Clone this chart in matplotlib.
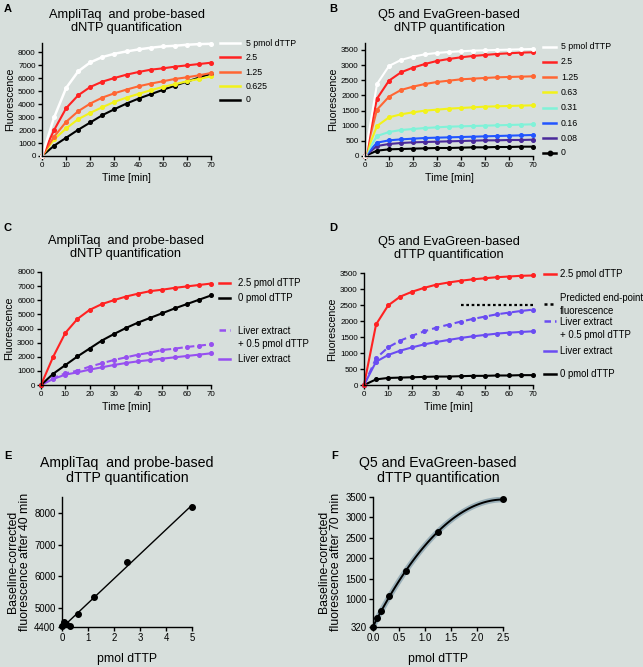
import numpy as np
import matplotlib
matplotlib.use("Agg")
import matplotlib.pyplot as plt
from matplotlib.lines import Line2D

plt.rcParams['font.family'] = ['Liberation Sans', 'DejaVu Sans']

BG = '#d7dfdc'

# time axis, minutes
time_min = [0, 5, 10, 15, 20, 25, 30, 35, 40, 45, 50, 55, 60, 65, 70]

# panel A - AmpliTaq, probe-based
a_5 = [0, 2965, 5240, 6518, 7208, 7617, 7872, 8051, 8205, 8333, 8435, 8486, 8563, 8614, 8640]
a_2_5 = [0, 1994, 3680, 4677, 5316, 5725, 6006, 6262, 6467, 6646, 6748, 6876, 6978, 7080, 7182]
a_1_25 = [0, 1482, 2633, 3450, 4038, 4498, 4830, 5112, 5368, 5572, 5751, 5930, 6058, 6211, 6390]
a_0_625 = [0, 1278, 2121, 2837, 3323, 3757, 4166, 4498, 4780, 5061, 5316, 5521, 5751, 5930, 6134]
a_0 = [0, 792, 1406, 2019, 2582, 3144, 3604, 4038, 4422, 4754, 5086, 5419, 5725, 6032, 6339]
a_labels = ['5 pmol dTTP', '2.5', '1.25', '0.625', '0']

# panel B - Q5, EvaGreen
b_5 = [0, 2377, 2972, 3170, 3280, 3357, 3401, 3434, 3456, 3478, 3489, 3500, 3511, 3522, 3533]
b_2_5 = [0, 1893, 2487, 2762, 2917, 3038, 3137, 3203, 3258, 3302, 3335, 3368, 3390, 3412, 3423]
b_1_25 = [0, 1530, 1959, 2179, 2289, 2377, 2443, 2487, 2531, 2553, 2575, 2597, 2608, 2619, 2630]
b_0_63 = [0, 990, 1277, 1376, 1442, 1497, 1530, 1563, 1585, 1607, 1629, 1640, 1651, 1662, 1673]
b_0_31 = [0, 660, 792, 858, 891, 924, 946, 968, 979, 990, 1001, 1012, 1024, 1035, 1046]
b_0_16 = [0, 440, 517, 550, 572, 594, 605, 616, 627, 638, 649, 660, 671, 682, 693]
b_0_08 = [0, 330, 396, 429, 451, 462, 473, 484, 495, 506, 517, 517, 528, 528, 539]
b_0 = [0, 176, 220, 231, 242, 253, 264, 264, 275, 286, 286, 297, 297, 308, 308]
b_labels = ['5 pmol dTTP', '2.5', '1.25', '0.63', '0.31', '0.16', '0.08', '0']

# panel C - liver extract, AmpliTaq
c_liver_spike = [0, 496, 826, 1015, 1298, 1534, 1770, 1959, 2148, 2289, 2478, 2572, 2690, 2785, 2879]
c_liver = [0, 425, 732, 897, 1086, 1251, 1416, 1558, 1676, 1770, 1864, 1959, 2053, 2148, 2242]

# panel D - liver extract, Q5
d_liver_spike = [0, 834, 1177, 1386, 1542, 1678, 1792, 1886, 1980, 2063, 2136, 2209, 2261, 2313, 2355]
d_liver = [0, 729, 938, 1073, 1177, 1271, 1344, 1407, 1469, 1521, 1563, 1605, 1636, 1657, 1678]
d_predicted = 2490
d_predicted_from = 40

# panels E and F - standard curves
e_pmol = [0, 0.08, 0.16, 0.31, 0.63, 1.25, 2.5, 5]
e_fluor = [4430, 4550, 4500, 4420, 4810, 5340, 6455, 8190]
f_pmol = [0, 0.08, 0.16, 0.31, 0.63, 1.25, 2.5]
f_fluor = [320, 533, 705, 1074, 1690, 2650, 3440]


def style_axes(ax, tick_size):
    ax.set_facecolor(BG)
    ax.spines['top'].set_visible(False)
    ax.spines['right'].set_visible(False)
    for s in ('left', 'bottom'):
        ax.spines[s].set_linewidth(1.0)
    ax.tick_params(labelsize=tick_size, length=3, width=1.0, pad=1.5)


def side_labels(ax, entries, x0, x1, xt, fs):
    # entries: (y handle, y text, text, line kwargs)
    for yh, yt, text, kw in entries:
        ax.add_line(Line2D([x0, (x0 + x1) / 2, x1], [yh, yh, yh],
                           transform=ax.transAxes, clip_on=False, **kw))
        ax.text(xt, yt, text, transform=ax.transAxes, fontsize=fs,
                va='center', ha='left', linespacing=1.45)


def kinetics_axes(ax, title, ymax, ystep, ytop, pad=9):
    style_axes(ax, 5.8)
    ax.set_xlim(0, 70)
    ax.set_ylim(0, ytop)
    ax.set_xticks(range(0, 71, 10))
    ax.set_yticks(np.arange(0, ymax + 1, ystep))
    ax.set_xlabel('Time [min]', fontsize=7.6, labelpad=3)
    ax.set_ylabel('Fluorescence', fontsize=7.6, labelpad=2)
    ax.set_title(title, fontsize=9.2, linespacing=1.1, pad=pad)


def main():
    fig = plt.figure(figsize=(6.43, 6.67), dpi=100)
    fig.patch.set_facecolor(BG)
    W, H = 643.0, 667.0

    def box(l, t, r, b):
        return [l / W, 1 - b / H, (r - l) / W, (b - t) / H]

    ax_a = fig.add_axes(box(42, 43, 211, 156))
    ax_b = fig.add_axes(box(365, 43, 533, 156))
    ax_c = fig.add_axes(box(41, 272, 211, 385))
    ax_d = fig.add_axes(box(364, 273, 533, 385))
    ax_e = fig.add_axes(box(62, 497, 192, 627))
    ax_f = fig.add_axes(box(373, 497, 503, 627))

    mk = dict(marker='o', markersize=2.6, linewidth=1.5, clip_on=False)
    dash = (0, (3.6, 2.0))
    dash_handle = (0, (2.6, 1.6))

    # A
    kinetics_axes(ax_a, 'AmpliTaq  and probe-based\ndNTP quantification', 8000, 1000, 8700)
    a_series = [a_5, a_2_5, a_1_25, a_0_625, a_0]
    a_colors = ['white', '#ff2222', '#ff6633', '#f2f21a', 'black']
    for vals, col in zip(reversed(a_series), reversed(a_colors)):
        lw = 1.8 if col == 'white' else 1.5
        ax_a.plot(time_min, vals, color=col, **dict(mk, linewidth=lw))
    ys = [1.0, 0.876, 0.743, 0.619, 0.496]
    side_labels(ax_a, [(y, y, lab, dict(color=c, lw=1.8))
                       for y, lab, c in zip(ys, a_labels, a_colors)],
                1.053, 1.172, 1.205, 6.3)

    # B
    kinetics_axes(ax_b, 'Q5 and EvaGreen-based\ndNTP quantification', 3500, 500, 3730)
    b_series = [b_5, b_2_5, b_1_25, b_0_63, b_0_31, b_0_16, b_0_08, b_0]
    b_colors = ['white', '#ff2222', '#ff6633', '#f2f21a', '#80f2d8',
                '#2255ff', '#4a2a9a', 'black']
    for vals, col in zip(reversed(b_series), reversed(b_colors)):
        ax_b.plot(time_min, vals, color=col, **mk)
    ys = [0.965, 0.832, 0.699, 0.566, 0.425, 0.292, 0.159, 0.027]
    entries = []
    for y, lab, c in zip(ys, b_labels, b_colors):
        kw = dict(color=c, lw=1.8)
        if lab == '0':
            kw.update(marker='o', markersize=3.2, markevery=[1])
        entries.append((y, y, lab, kw))
    side_labels(ax_b, entries, 1.06, 1.137, 1.166, 6.3)

    # C
    kinetics_axes(ax_c, 'AmpliTaq  and probe-based\ndNTP quantification', 8000, 1000, 8000, pad=11)
    purple_c = '#9650f0'
    ax_c.plot(time_min, c_liver, color=purple_c, **mk)
    ax_c.plot(time_min, c_liver_spike, color=purple_c, linestyle=dash, **mk)
    ax_c.plot(time_min, a_0, color='black', **mk)
    ax_c.plot(time_min, a_2_5, color='#ff2222', **mk)
    side_labels(ax_c, [
        (0.903, 0.903, '2.5 pmol dTTP', dict(color='#ff2222', lw=1.8)),
        (0.770, 0.770, '0 pmol dTTP', dict(color='black', lw=1.8)),
        (0.487, 0.420, 'Liver extract\n+ 0.5 pmol dTTP', dict(color=purple_c, lw=1.8, ls=dash_handle)),
        (0.230, 0.230, 'Liver extract', dict(color=purple_c, lw=1.8)),
    ], 1.047, 1.112, 1.159, 6.9)

    # D
    kinetics_axes(ax_d, 'Q5 and EvaGreen-based\ndTTP quantification', 3500, 500, 3500, pad=11)
    purple_d = '#6a4cf2'
    ax_d.plot(time_min, b_0, color='black', **mk)
    ax_d.plot(time_min, d_liver, color=purple_d, **mk)
    ax_d.plot(time_min, d_liver_spike, color=purple_d, linestyle=dash, **mk)
    ax_d.plot(time_min, b_2_5, color='#ff2222', **mk)
    ax_d.plot([d_predicted_from, time_min[-1]], [d_predicted, d_predicted],
              color='black', linestyle=(0, (1.2, 1.2)), lw=1.6)
    side_labels(ax_d, [
        (0.991, 0.991, '2.5 pmol dTTP', dict(color='#ff2222', lw=1.8)),
        (0.723, 0.719, 'Predicted end-point\nfluorescence', dict(color='black', lw=1.8, ls=(0, (1.2, 1.2)))),
        (0.571, 0.504, 'Liver extract\n+ 0.5 pmol dTTP', dict(color=purple_d, lw=1.8, ls=dash_handle)),
        (0.304, 0.304, 'Liver extract', dict(color=purple_d, lw=1.8)),
        (0.098, 0.098, '0 pmol dTTP', dict(color='black', lw=1.8)),
    ], 1.065, 1.136, 1.160, 6.9)

    # E
    style_axes(ax_e, 6.9)
    fit_e = np.polyfit(e_pmol, e_fluor, 1)
    xe = np.linspace(0, 5, 50)
    ax_e.plot(xe, np.polyval(fit_e, xe), color='black', lw=1.0)
    ax_e.plot(e_pmol, e_fluor, 'o', color='black', markersize=4, clip_on=False)
    ax_e.set_xlim(0, 5)
    ax_e.set_ylim(4400, 8500)
    ax_e.set_xticks(range(0, 6))
    ax_e.set_yticks([4400, 5000, 6000, 7000, 8000])
    ax_e.set_xlabel('pmol dTTP', fontsize=8.8, labelpad=7)
    ax_e.set_ylabel('Baseline-corrected\nfluorescence after 40 min', fontsize=8.8,
                    labelpad=2, linespacing=1.05)
    ax_e.set_title('AmpliTaq  and probe-based\ndTTP quantification', fontsize=10.2,
                   linespacing=1.05, pad=11)

    # F
    style_axes(ax_f, 6.9)
    fit_f = np.polyfit(f_pmol, f_fluor, 2)
    xf = np.linspace(0, 2.5, 80)
    ax_f.plot(xf, np.polyval(fit_f, xf), color='#8aa3b0', lw=4.0, alpha=0.8)
    ax_f.plot(xf, np.polyval(fit_f, xf), color='black', lw=1.4)
    ax_f.plot(f_pmol, f_fluor, 'o', color='black', markersize=4, clip_on=False)
    ax_f.set_xlim(0, 2.5)
    ax_f.set_ylim(320, 3500)
    ax_f.set_xticks(np.arange(0, 2.51, 0.5))
    ax_f.set_xticklabels(['%.1f' % v for v in np.arange(0, 2.51, 0.5)])
    ax_f.set_yticks([320, 1000, 1500, 2000, 2500, 3000, 3500])
    ax_f.set_xlabel('pmol dTTP', fontsize=8.8, labelpad=7)
    ax_f.set_ylabel('Baseline-corrected\nfluorescence after 70 min', fontsize=8.8,
                    labelpad=2, linespacing=1.05)
    ax_f.set_title('Q5 and EvaGreen-based\ndTTP quantification', fontsize=10.2,
                   linespacing=1.05, pad=11)

    # panel letters
    for letter, x, y in [('A', 4, 9), ('B', 329, 9), ('C', 4, 228),
                         ('D', 329, 228), ('E', 4, 456), ('F', 331, 456)]:
        fig.text(x / W, 1 - y / H, letter, fontsize=8, fontweight='bold',
                 va='center', ha='left')

    fig.savefig('out.png', dpi=100, facecolor=BG)


if __name__ == "__main__":
    main()
